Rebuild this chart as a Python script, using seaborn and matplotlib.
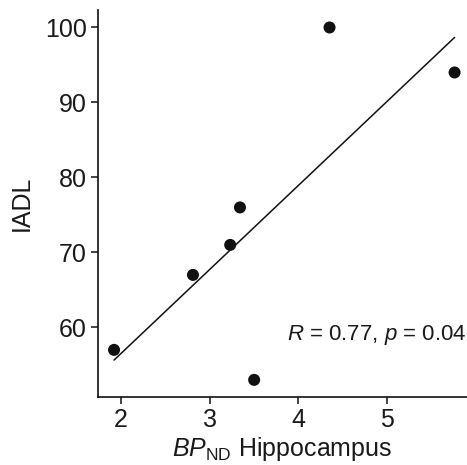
import pandas as pd
import seaborn as sns
import matplotlib.pyplot as plt

# values
bp_nd = [1.92, 2.81, 3.23, 3.34, 3.50, 4.35, 5.76]
iadl = [57, 67, 71, 76, 53, 100, 94]
x_ticks = [2, 3, 4, 5]
y_ticks = [60, 70, 80, 90, 100]

df = pd.DataFrame({'BP': bp_nd, 'IADL': iadl})

sns.set_style('ticks')
plt.rcParams['font.family'] = ['Liberation Sans', 'DejaVu Sans']
plt.rcParams['mathtext.fontset'] = 'custom'
plt.rcParams['mathtext.rm'] = 'Liberation Sans'
plt.rcParams['mathtext.it'] = 'Liberation Sans:italic'

fig = plt.figure(figsize=(4.67, 4.65), dpi=100)
ax = fig.add_axes([0.21, 0.146, 0.79, 0.832])

# scatter + least squares line without confidence band
sns.regplot(x='BP', y='IADL', data=df, ci=None, ax=ax,
            scatter_kws={'s': 75, 'color': '#111111', 'edgecolor': 'none', 'alpha': 1},
            line_kws={'color': '#111111', 'linewidth': 1.1})

ax.set_xlim(1.74, 5.9)
ax.set_ylim(50.7, 102.3)
ax.set_xticks(x_ticks)
ax.set_yticks(y_ticks)

for side in ['top', 'right']:
    ax.spines[side].set_visible(False)
for side in ['left', 'bottom']:
    ax.spines[side].set_linewidth(1.2)
    ax.spines[side].set_color('#111111')
ax.tick_params(axis='both', labelsize=18, length=5, width=1.1, pad=3,
               color='#111111', labelcolor='#1a1a1a')

ax.set_xlabel(r'$BP_{\mathrm{ND}}$ Hippocampus', fontsize=18, color='#1a1a1a', labelpad=2)
ax.set_ylabel('IADL', fontsize=18, color='#1a1a1a', labelpad=8)

ax.text(5.9, 58.3, r'$R$ = 0.77, $p$ = 0.04', ha='right', va='baseline',
        fontsize=16, color='#1a1a1a')

plt.savefig('out.png', dpi=100)
